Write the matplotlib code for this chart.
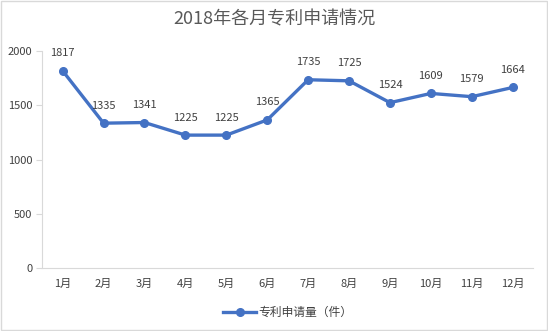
import matplotlib.pyplot as plt
from matplotlib.patches import Rectangle

plt.rcParams['font.family'] = ['Noto Sans CJK SC', 'DejaVu Sans']

months = ['1月', '2月', '3月', '4月', '5月', '6月', '7月', '8月', '9月', '10月', '11月', '12月']
counts = [1817, 1335, 1341, 1225, 1225, 1365, 1735, 1725, 1524, 1609, 1579, 1664]

fig = plt.figure(figsize=(5.48, 3.31), dpi=100)
ax = fig.add_axes([0.077, 0.19, 0.896, 0.656])

x = range(len(months))
ax.plot(x, counts, color='#4472C4', linewidth=2.4, marker='o', markersize=5.5,
        label='专利申请量（件）')

# 数据标签
for i, v in zip(x, counts):
    ax.annotate(str(v), (i, v), xytext=(0, 9), textcoords='offset points',
                ha='center', va='bottom', fontsize=8, color='#404040')

ax.set_xlim(-0.5, len(months) - 0.5)
ax.set_ylim(0, 2000)
ax.set_yticks([0, 500, 1000, 1500, 2000])
ax.set_xticks(list(x))
ax.set_xticklabels(months)
ax.tick_params(axis='x', length=0, pad=8, labelsize=8, labelcolor='#404040')
ax.tick_params(axis='y', length=4, color='#D9D9D9', pad=3, labelsize=8, labelcolor='#404040')

for side in ['top', 'right']:
    ax.spines[side].set_visible(False)
ax.spines['left'].set_color('#D9D9D9')
ax.spines['bottom'].set_color('#D9D9D9')

fig.suptitle('2018年各月专利申请情况', y=0.97, fontsize=13, color='#595959')

ax.legend(loc='upper center', bbox_to_anchor=(0.5, -0.125), frameon=False,
          fontsize=8.5, labelcolor='#404040', handlelength=2.8, handletextpad=0.2)

# 外边框
fig.patches.append(Rectangle((0.002, 0.003), 0.996, 0.994, transform=fig.transFigure,
                             fill=False, edgecolor='#D9D9D9', linewidth=1))

plt.savefig('out.png', dpi=100)
